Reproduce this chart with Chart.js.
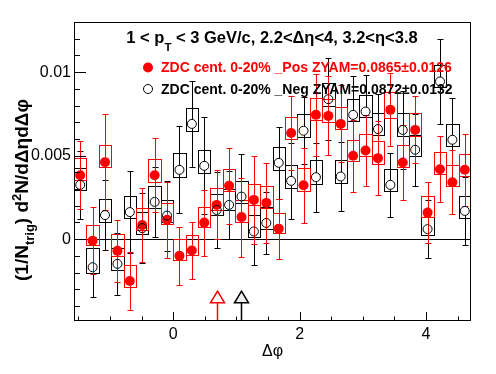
<!DOCTYPE html>
<html>
<head>
<meta charset="utf-8">
<script src="https://cdn.jsdelivr.net/npm/chart.js@4.4.1/dist/chart.umd.min.js"></script>
<style>
  html, body { margin: 0; padding: 0; background: #fff; }
  #wrap { width: 496px; height: 374px; }
</style>
</head>
<body>
<div id="wrap"><canvas id="c" width="496" height="374"></canvas></div>
<script>
const FONT = '"Liberation Sans", Arial, Helvetica, sans-serif';

// 32 bins in dphi from -pi/2 to 3pi/2
const nBins = 32;
const binW = 2 * Math.PI / nBins;
const dphi = Array.from({ length: nBins }, (_, i) => -Math.PI / 2 + (i + 0.5) * binW);

// ZDC cent. 0-20% _Pos (red, filled)
const posVal = [0.00383, -0.00010, 0.00461, -0.00070, -0.00250, 0.00084, 0.00383, 0.00116,
  -0.00100, -0.00068, 0.00099, 0.00205, 0.00319, 0.00132, 0.00235, 0.00217,
  0.00063, 0.00635, 0.00323, 0.00744, 0.00738, 0.00690, 0.00499, 0.00531,
  0.00485, 0.00774, 0.00459, 0.00654, 0.00159, 0.00419, 0.00341, 0.00415];
const posErr = [0.00203, 0.00200, 0.00288, 0.00185, 0.00175, 0.00223, 0.00223, 0.00226,
  0.00175, 0.00170, 0.00198, 0.00207, 0.00229, 0.00237, 0.00264, 0.00240,
  0.00180, 0.00220, 0.00225, 0.00244, 0.00237, 0.00230, 0.00216, 0.00210,
  0.00220, 0.00219, 0.00225, 0.00200, 0.00182, 0.00198, 0.00192, 0.00215];
const posBoxHi = [0.00487, 0.00084, 0.00565, 0.00030, -0.00154, 0.00186, 0.00479, 0.00216,
  0.00000, 0.00024, 0.00192, 0.00305, 0.00419, 0.00235, 0.00331, 0.00319,
  0.00156, 0.00734, 0.00425, 0.00844, 0.00838, 0.00794, 0.00595, 0.00629,
  0.00590, 0.00878, 0.00565, 0.00758, 0.00259, 0.00519, 0.00445, 0.00511];
const posBoxLo = [0.00355, -0.00036, 0.00431, -0.00098, -0.00284, 0.00056, 0.00345, 0.00090,
  -0.00124, -0.00096, 0.00075, 0.00175, 0.00291, 0.00105, 0.00205, 0.00186,
  0.00036, 0.00602, 0.00291, 0.00714, 0.00704, 0.00659, 0.00465, 0.00495,
  0.00451, 0.00725, 0.00431, 0.00619, 0.00135, 0.00391, 0.00319, 0.00379];

// ZDC cent. 0-20% _Neg (black, open)
const negVal = [0.00325, -0.00168, 0.00144, -0.00148, 0.00162, 0.00066, 0.00223, 0.00141,
  0.00415, 0.00690, 0.00439, 0.00175, 0.00205, 0.00255, 0.00046, 0.00097,
  0.00457, 0.00349, 0.00649, 0.00371, 0.00838, 0.00375, 0.00744, 0.00764,
  0.00659, 0.00325, 0.00654, 0.00535, 0.00060, 0.00944, 0.00595, 0.00169];
const negErr = [0.00202, 0.00179, 0.00210, 0.00185, 0.00247, 0.00210, 0.00210, 0.00210,
  0.00260, 0.00258, 0.00290, 0.00230, 0.00205, 0.00255, 0.00200, 0.00188,
  0.00216, 0.00226, 0.00200, 0.00207, 0.00244, 0.00205, 0.00230, 0.00220,
  0.00210, 0.00193, 0.00235, 0.00214, 0.00175, 0.00254, 0.00250, 0.00205];
const negBoxHi = [0.00425, -0.00050, 0.00240, -0.00054, 0.00257, 0.00162, 0.00317, 0.00235,
  0.00515, 0.00784, 0.00535, 0.00271, 0.00300, 0.00351, 0.00145, 0.00192,
  0.00551, 0.00445, 0.00750, 0.00471, 0.00934, 0.00475, 0.00840, 0.00864,
  0.00758, 0.00419, 0.00754, 0.00625, 0.00132, 0.01040, 0.00689, 0.00261];
const negBoxLo = [0.00292, -0.00204, 0.00105, -0.00186, 0.00126, 0.00030, 0.00186, 0.00100,
  0.00375, 0.00650, 0.00399, 0.00145, 0.00175, 0.00216, 0.00012, 0.00062,
  0.00415, 0.00305, 0.00610, 0.00331, 0.00800, 0.00335, 0.00710, 0.00730,
  0.00625, 0.00291, 0.00620, 0.00500, 0.00026, 0.00910, 0.00560, 0.00126];

// arrow markers on the dphi axis (pos red, neg black)
const arrowX = [0.69, 1.075];
const arrowColor = ['#ff0000', '#000000'];
const arrowFill = ['#ffffff', '#eeeeee'];

// axis ticks
const xMin = -Math.PI / 2, xMax = 3 * Math.PI / 2;
const yMin = -0.0049, yMax = 0.013;
const xMajor = [0, 2, 4];
const xMajorLabels = ['0', '2', '4'];
const yMajor = [0, 0.005, 0.01];
const yMajorLabels = ['0', '0.005', '0.01'];
const xStep = 0.5, yStep = 0.001;

const headerText = ['1 < p', 'T', ' < 3 GeV/c, 2.2<\u0394\u03b7<4, 3.2<\u03b7<3.8'];
const legendText = ['ZDC cent. 0-20% _Pos ZYAM=0.0865\u00b10.0126', 'ZDC cent. 0-20% _Neg ZYAM=0.0872\u00b10.0132'];

const near = (a, b) => Math.abs(a - b) < 1e-9;
const labelFor = (v, vals, labels) => {
  const k = vals.findIndex(m => near(m, v));
  return k < 0 ? '' : labels[k];
};
const stepTicks = (lo, hi, step) => {
  const t = [];
  for (let v = Math.ceil(lo / step) * step; v <= hi + 1e-12; v += step) t.push({ value: Math.round(v / step) * step });
  return t;
};

const crisp = v => Math.round(v) + 0.5;

function drawSeries(ctx, xs, ys, val, err, hi, lo, color, r) {
  ctx.strokeStyle = color;
  ctx.lineWidth = 1;
  for (let i = 0; i < val.length; i++) {
    const xl = crisp(xs.getPixelForValue(dphi[i] - binW / 2));
    const xr = crisp(xs.getPixelForValue(dphi[i] + binW / 2));
    const yh = crisp(ys.getPixelForValue(hi[i]));
    const yl = crisp(ys.getPixelForValue(lo[i]));
    ctx.strokeRect(xl, yh, xr - xl, yl - yh);
    // stat error bar, with a gap at the marker
    const xc = crisp(xs.getPixelForValue(dphi[i]));
    const yc = ys.getPixelForValue(val[i]);
    const yt = crisp(ys.getPixelForValue(val[i] + err[i]));
    const yb = crisp(ys.getPixelForValue(val[i] - err[i]));
    ctx.beginPath();
    ctx.moveTo(xc, yt); ctx.lineTo(xc, yc - r);
    ctx.moveTo(xc, yc + r); ctx.lineTo(xc, yb);
    ctx.moveTo(xc - 3, yt); ctx.lineTo(xc + 3, yt);
    ctx.moveTo(xc - 3, yb); ctx.lineTo(xc + 3, yb);
    ctx.stroke();
  }
}

const rootStyle = {
  id: 'rootStyle',
  beforeDatasetsDraw(chart) {
    const { ctx, chartArea: a, scales: { x, y } } = chart;
    ctx.save();
    ctx.beginPath();
    ctx.rect(a.left, a.top, a.right - a.left, a.bottom - a.top);
    ctx.clip();

    const y0 = crisp(y.getPixelForValue(0));
    ctx.strokeStyle = '#000';
    ctx.lineWidth = 1;
    ctx.beginPath(); ctx.moveTo(a.left, y0); ctx.lineTo(a.right, y0); ctx.stroke();

    drawSeries(ctx, x, y, negVal, negErr, negBoxHi, negBoxLo, '#000000', 4.5);
    drawSeries(ctx, x, y, posVal, posErr, posBoxHi, posBoxLo, '#ff0000', 5);

    // arrows
    arrowX.forEach((ax, k) => {
      const px = crisp(x.getPixelForValue(ax));
      const pt = y.getPixelForValue(-0.00311);
      const pb = y.getPixelForValue(-0.00381);
      ctx.strokeStyle = arrowColor[k];
      ctx.fillStyle = arrowFill[k];
      ctx.lineWidth = 1.5;
      ctx.beginPath();
      ctx.moveTo(px, pt); ctx.lineTo(px + 7, pb); ctx.lineTo(px - 7, pb); ctx.closePath();
      ctx.fill(); ctx.stroke();
      ctx.beginPath(); ctx.moveTo(px, pb); ctx.lineTo(px, a.bottom); ctx.stroke();
    });
    ctx.restore();
  },
  afterDraw(chart) {
    const { ctx, chartArea: a, scales: { x, y } } = chart;
    ctx.save();
    ctx.strokeStyle = '#000';
    ctx.lineWidth = 1;
    ctx.strokeRect(crisp(a.left), crisp(a.top), Math.round(a.right - a.left) - 1, Math.round(a.bottom - a.top) - 1);

    // ticks inside the frame
    ctx.beginPath();
    x.ticks.forEach(t => {
      const px = crisp(x.getPixelForValue(t.value));
      const len = xMajor.some(m => near(m, t.value)) ? 9 : 4.5;
      ctx.moveTo(px, a.bottom); ctx.lineTo(px, a.bottom - len);
    });
    y.ticks.forEach(t => {
      const py = crisp(y.getPixelForValue(t.value));
      const len = yMajor.some(m => near(m, t.value)) ? 12 : 6;
      ctx.moveTo(a.left, py); ctx.lineTo(a.left + len, py);
    });
    ctx.stroke();

    // header
    ctx.fillStyle = '#000';
    ctx.textBaseline = 'alphabetic';
    ctx.textAlign = 'left';
    const big = 'bold 16.5px ' + FONT, small = 'bold 11.5px ' + FONT;
    ctx.font = big;
    const w0 = ctx.measureText(headerText[0]).width;
    const w2 = ctx.measureText(headerText[2]).width;
    ctx.font = small;
    const w1 = ctx.measureText(headerText[1]).width;
    let hx = 272 - (w0 + w1 + w2) / 2;
    ctx.font = big; ctx.fillText(headerText[0], hx, 43); hx += w0;
    ctx.font = small; ctx.fillText(headerText[1], hx, 51); hx += w1;
    ctx.font = big; ctx.fillText(headerText[2], hx, 43);

    // legend
    ctx.font = 'bold 14px ' + FONT;
    ctx.fillStyle = '#ff0000';
    ctx.beginPath(); ctx.arc(148, 67.5, 5, 0, 2 * Math.PI); ctx.fill();
    ctx.fillText(legendText[0], 161, 72);
    ctx.fillStyle = '#000';
    ctx.strokeStyle = '#000';
    ctx.beginPath(); ctx.arc(148, 89, 4.5, 0, 2 * Math.PI); ctx.stroke();
    ctx.fillText(legendText[1], 161, 93.5);

    // x title
    ctx.font = '16px ' + FONT;
    ctx.textAlign = 'center';
    ctx.fillText('\u0394\u03c6', (a.left + a.right) / 2, 356);

    // y title, rotated
    const yBig = 'bold 19px ' + FONT, ySmall = 'bold 13px ' + FONT;
    const parts = [
      ['(1/N', yBig, 0], ['trig', ySmall, 6], [') d', yBig, 0], ['2', ySmall, -7], ['N/d\u0394\u03b7d\u0394\u03c6', yBig, 0]
    ];
    ctx.textAlign = 'left';
    let tot = 0;
    parts.forEach(p => { ctx.font = p[1]; tot += ctx.measureText(p[0]).width; });
    ctx.translate(28, 190);
    ctx.rotate(-Math.PI / 2);
    let tx = -tot / 2;
    parts.forEach(p => {
      ctx.font = p[1];
      ctx.fillText(p[0], tx, p[2]);
      tx += ctx.measureText(p[0]).width;
    });
    ctx.restore();
  }
};

new Chart(document.getElementById('c'), {
  type: 'scatter',
  data: {
    datasets: [
      {
        label: 'Neg',
        data: dphi.map((v, i) => ({ x: v, y: negVal[i] })),
        pointStyle: 'circle',
        pointRadius: 4.5,
        borderWidth: 1,
        borderColor: '#000000',
        backgroundColor: 'rgba(0,0,0,0)'
      },
      {
        label: 'Pos',
        data: dphi.map((v, i) => ({ x: v, y: posVal[i] })),
        pointStyle: 'circle',
        pointRadius: 5,
        borderWidth: 0,
        borderColor: '#ff0000',
        backgroundColor: '#ff0000'
      }
    ]
  },
  options: {
    responsive: false,
    animation: false,
    devicePixelRatio: 1,
    layout: { padding: { left: 0, top: 22, right: 25, bottom: 0 } },
    plugins: { legend: { display: false }, tooltip: { enabled: false } },
    scales: {
      x: {
        type: 'linear',
        min: xMin,
        max: xMax,
        afterFit: s => { s.height = 53; },
        afterBuildTicks: s => { s.ticks = stepTicks(xMin, xMax, xStep); },
        grid: { display: false, drawTicks: false },
        border: { display: false },
        ticks: {
          autoSkip: false, maxRotation: 0, padding: 4, color: '#000',
          font: { family: FONT, size: 16 },
          callback: v => labelFor(v, xMajor, xMajorLabels)
        }
      },
      y: {
        type: 'linear',
        min: yMin,
        max: yMax,
        afterFit: s => { s.width = 74; },
        afterBuildTicks: s => { s.ticks = stepTicks(yMin, yMax, yStep); },
        grid: { display: false, drawTicks: false },
        border: { display: false },
        ticks: {
          autoSkip: false, padding: 3, color: '#000',
          font: { family: FONT, size: 16 },
          callback: v => labelFor(v, yMajor, yMajorLabels)
        }
      }
    }
  },
  plugins: [rootStyle]
});
</script>
</body>
</html>
